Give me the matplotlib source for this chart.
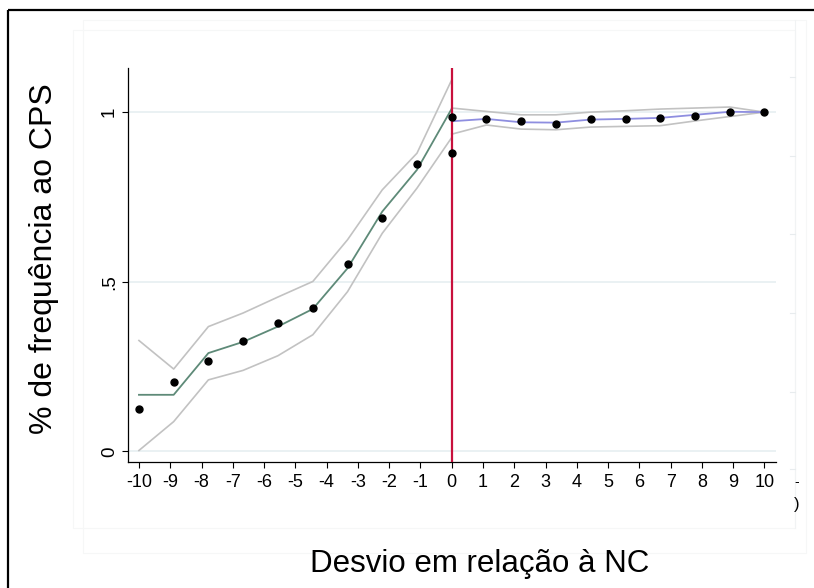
import matplotlib
matplotlib.use('Agg')
import matplotlib.pyplot as plt
from matplotlib.patches import Rectangle
from matplotlib.lines import Line2D

# bins below / above the cutoff (x = deviation from NC)
x_left = [-10, -8.89, -7.78, -6.67, -5.56, -4.44, -3.33, -2.22, -1.11, 0]
x_right = [0, 1.11, 2.22, 3.33, 4.44, 5.56, 6.67, 7.78, 8.89, 10]

# bin means (dots)
mean_left = [0.125, 0.205, 0.266, 0.326, 0.380, 0.422, 0.553, 0.689, 0.847, 0.881]
mean_right = [0.987, 0.979, 0.973, 0.966, 0.980, 0.981, 0.982, 0.989, 1.001, 1.000]

# fitted lines
fit_left = [0.167, 0.167, 0.290, 0.323, 0.368, 0.420, 0.540, 0.707, 0.830, 1.010]
fit_right = [0.973, 0.980, 0.970, 0.969, 0.978, 0.980, 0.983, 0.992, 1.001, 1.000]

# confidence bands
hi_left = [0.327, 0.243, 0.368, 0.408, 0.455, 0.501, 0.624, 0.771, 0.879, 1.095]
lo_left = [0.003, 0.088, 0.211, 0.239, 0.282, 0.344, 0.471, 0.643, 0.776, 0.925]
hi_right = [1.012, 1.002, 0.992, 0.992, 1.000, 1.004, 1.009, 1.012, 1.015, 1.000]
lo_right = [0.935, 0.962, 0.950, 0.948, 0.956, 0.958, 0.960, 0.974, 0.987, 1.000]

x_ticks = list(range(-10, 11))
y_ticks = [0, 0.5, 1]
y_ticklabels = ['0', '.5', '1']

xlabel = 'Desvio em relação à NC'
ylabel = '% de frequência ao CPS'


def main():
    plt.rcParams['font.family'] = ['Liberation Sans', 'DejaVu Sans']
    W, H = 814, 588
    fig = plt.figure(figsize=(W / 100, H / 100), dpi=100)
    fig.patch.set_facecolor('white')

    # faint leftovers of the graph region boxes
    faint = '#f6f7f7'
    for (x0, y0, x1, y1) in [(73, 30, 795, 528), (83, 20, 806, 553)]:
        fig.add_artist(Rectangle((x0 / W, 1 - y1 / H), (x1 - x0) / W, (y1 - y0) / H,
                                 transform=fig.transFigure, fill=False,
                                 edgecolor=faint, lw=0.8))
    fig.add_artist(Line2D([795 / W, 795 / W], [1 - 528 / H, 1 - 20 / H],
                          transform=fig.transFigure, color='#f1f3f4', lw=0.8))
    for ty in [77, 156, 234, 313, 392, 469]:
        fig.add_artist(Line2D([790 / W, 795 / W], [1 - ty / H, 1 - ty / H],
                              transform=fig.transFigure, color='#e8ecee', lw=0.8))

    # outer black frame: only the top and left edges fall inside the picture
    fig.add_artist(Line2D([8 / W, 1.02], [1 - 10 / H, 1 - 10 / H],
                          transform=fig.transFigure, color='black', lw=1.6,
                          solid_capstyle='butt'))
    fig.add_artist(Line2D([8 / W, 8 / W], [-0.02, 1 - 10 / H],
                          transform=fig.transFigure, color='black', lw=1.6,
                          solid_capstyle='butt'))

    ax = fig.add_axes([127.7 / W, 1 - 462 / H, 648 / W, 394 / H])
    ax.set_xlim(-10.36, 10.36)
    ax.set_ylim(-0.031, 1.130)

    for s in ['top', 'right']:
        ax.spines[s].set_visible(False)
    for s in ['left', 'bottom']:
        ax.spines[s].set_linewidth(0.9)

    # grid
    for yv in y_ticks:
        ax.axhline(yv, color='#e6eff1', lw=1.2, zorder=0)

    gray = '#c2c2c2'
    ax.plot(x_left, hi_left, color=gray, lw=1.2, zorder=2)
    ax.plot(x_left, lo_left, color=gray, lw=1.2, zorder=2)
    ax.plot(x_right, hi_right, color=gray, lw=1.2, zorder=2)
    ax.plot(x_right, lo_right, color=gray, lw=1.2, zorder=2)

    ax.plot(x_left, fit_left, color='#5e8a78', lw=1.3, zorder=3)
    ax.plot(x_right, fit_right, color='#8e8ee0', lw=1.3, zorder=3)

    ax.axvline(0, color='#c8103c', lw=1.6, zorder=4)

    ax.plot(x_left, mean_left, 'o', color='black', ms=5, zorder=5)
    ax.plot(x_right, mean_right, 'o', color='black', ms=5, zorder=5)

    ax.set_xticks(x_ticks)
    ax.set_xticklabels([str(v) for v in x_ticks])
    ax.set_yticks(y_ticks)
    ax.set_yticklabels(y_ticklabels)
    ax.tick_params(axis='x', length=4.5, width=0.8, pad=4, labelsize=13)
    ax.tick_params(axis='y', length=4.5, width=0.8, pad=2.5, labelsize=13.5,
                   labelrotation=90)
    for lab in ax.get_yticklabels():
        lab.set_va('center')

    fig.text(480 / W, 1 - 571.7 / H, xlabel, ha='center', va='baseline',
             fontsize=22.5)
    fig.text(44 / W, 1 - 259 / H, ylabel, ha='center', va='center',
             rotation=90, fontsize=23)

    # stray marks at the right edge
    fig.text(797 / W, 1 - 482 / H, '-', ha='center', va='center', fontsize=10)
    fig.text(797 / W, 1 - 505 / H, ')', ha='center', va='center', fontsize=12)

    fig.savefig('out.png', dpi=100, facecolor='white')


if __name__ == '__main__':
    main()
